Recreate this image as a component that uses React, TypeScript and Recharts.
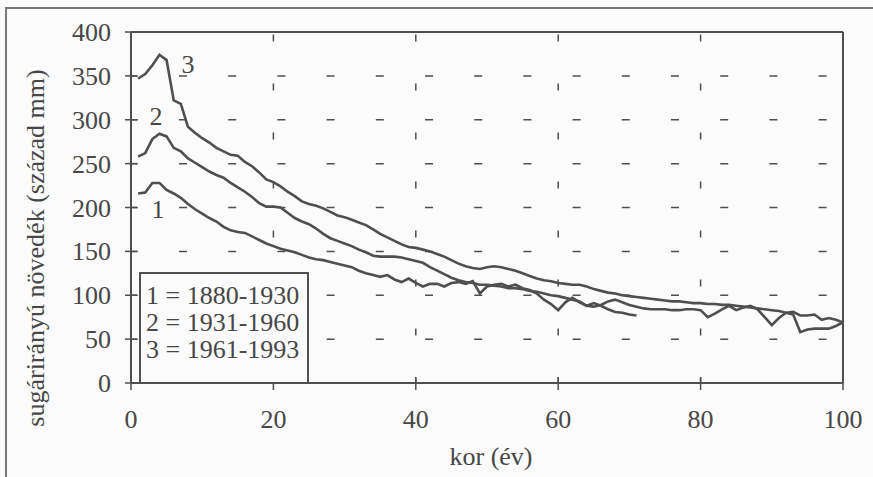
import { LineChart, Line, XAxis, YAxis, CartesianGrid, ReferenceLine, ReferenceDot } from "recharts";

// age in years (1..100)
const ages = Array.from({ length: 100 }, (_, i) => i + 1);

// 1 = 1880-1930 (ends at age 71)
const period1 = [
  216, 217, 228, 228, 220, 216, 211, 204, 198, 193,
  188, 184, 178, 174, 172, 171, 167, 163, 159, 156,
  153, 151, 149, 146, 143, 141, 140, 138, 136, 134,
  132, 128, 125, 123, 121, 123, 118, 115, 119, 114,
  110, 113, 113, 110, 114, 115, 113, 116, 102, 110,
  112, 113, 110, 112, 108, 106, 102, 95, 90, 83,
  92, 97, 92, 88, 91, 88, 84, 81, 80, 78,
  77,
];

// 2 = 1931-1960
const period2 = [
  258, 262, 278, 284, 281, 268, 264, 256, 251, 246,
  241, 237, 234, 228, 223, 218, 212, 205, 201, 201,
  200, 194, 188, 184, 181, 176, 170, 165, 162, 159,
  156, 152, 149, 145, 144, 144, 144, 143, 141, 139,
  137, 132, 128, 124, 120, 117, 115, 114, 112, 112,
  111, 110, 108, 108, 107, 105, 104, 102, 100, 99,
  97, 95, 93, 88, 87, 89, 93, 95, 92, 89,
  87, 85, 84, 84, 84, 83, 83, 84, 84, 83,
  75, 79, 84, 88, 83, 86, 88, 84, 75, 66,
  74, 80, 78, 58, 61, 62, 62, 62, 65, 69,
];

// 3 = 1961-1993
const period3 = [
  347, 352, 362, 374, 368, 322, 318, 292, 285, 279,
  274, 268, 264, 260, 259, 252, 247, 240, 232, 229,
  224, 218, 213, 207, 204, 202, 199, 195, 191, 189,
  186, 183, 180, 175, 170, 166, 162, 158, 155, 154,
  152, 150, 147, 144, 140, 136, 133, 131, 130, 132,
  133, 132, 130, 128, 125, 122, 119, 117, 116, 114,
  113, 112, 112, 110, 107, 105, 103, 102, 100, 99,
  98, 97, 96, 95, 94, 93, 93, 92, 91, 91,
  90, 90, 89, 89, 88, 87, 86, 85, 84, 83,
  82, 80, 81, 77, 77, 78, 72, 74, 72, 69,
];

const xTicks = [0, 20, 40, 60, 80, 100];
const yTicks = [0, 50, 100, 150, 200, 250, 300, 350, 400];
const legendLines = ["1 = 1880-1930", "2 = 1931-1960", "3 = 1961-1993"];
const curveTags = [
  { tag: "1", age: 3.8, value: 198 },
  { tag: "2", age: 3.5, value: 304 },
  { tag: "3", age: 8, value: 364 },
];

const rows = ages.map((age, i) => ({
  age,
  p1: period1[i] ?? null,
  p2: period2[i] ?? null,
  p3: period3[i] ?? null,
}));

const ink = "#4f4f4f";
const textInk = "#474747";
const serif = "Liberation Serif, DejaVu Serif";

const hGrid = (p: any) => (
  <line key={p.key} x1={p.x1} y1={p.y1} x2={p.x2} y2={p.y2} stroke={ink} strokeWidth={1.5}
    strokeDasharray="8 41.2" strokeDashoffset={1.2} />
);
const vGrid = (p: any) => (
  <line key={p.key} x1={p.x1} y1={p.y1} x2={p.x2} y2={p.y2} stroke={ink} strokeWidth={1.5}
    strokeDasharray="7 42" strokeDashoffset={46.5} />
);

const XTick = ({ x, y, payload }: any) => (
  <g>
    <line x1={x} x2={x} y1={y - 6} y2={y + 7} stroke={ink} strokeWidth={1.5} />
    <text x={x} y={y + 45} textAnchor="middle" style={{ fontFamily: serif, fontSize: 26 }} fill={textInk}>
      {payload.value}
    </text>
  </g>
);

const YTick = ({ x, y, payload }: any) => (
  <g>
    <line x1={x - 6} x2={x + 6} y1={y} y2={y} stroke={ink} strokeWidth={1.5} />
    <text x={x - 20} y={y + 9} textAnchor="end" style={{ fontFamily: serif, fontSize: 26 }} fill={textInk}>
      {payload.value}
    </text>
  </g>
);

const yLabel = () => (
  <text x={35} y={248} transform="rotate(-90 35 248)" textAnchor="middle" dominantBaseline="central"
    style={{ fontFamily: serif, fontSize: 26 }} fill={textInk}>
    sugárirányú növedék (század mm)
  </text>
);

const xLabel = () => (
  <text x={491} y={465} textAnchor="middle" style={{ fontFamily: serif, fontSize: 26 }} fill={textInk}>
    kor (év)
  </text>
);

export default function App() {
  return (
    <div style={{ position: "absolute", left: 0, top: 0, width: 873, height: 477, background: "#fafbfa", overflow: "hidden" }}>
      <div style={{ position: "absolute", left: 5, top: 7, right: -4, bottom: -4, borderLeft: "2px solid #7a7a7a", borderTop: "2px solid #7a7a7a" }} />
      <LineChart width={873} height={477} data={rows} margin={{ top: 32, right: 30, bottom: 0, left: 0 }}>
        <CartesianGrid horizontal={hGrid} vertical={false} />
        <CartesianGrid vertical={vGrid} horizontal={false} />
        <XAxis dataKey="age" type="number" domain={[0, 100]} ticks={xTicks} height={94}
          axisLine={{ stroke: ink, strokeWidth: 2 }} tickLine={false} tickSize={0} tickMargin={0}
          tick={<XTick />} label={xLabel} interval={0} />
        <YAxis type="number" domain={[0, 400]} ticks={yTicks} width={131}
          axisLine={{ stroke: ink, strokeWidth: 2 }} tickLine={false} tickSize={0} tickMargin={0}
          tick={<YTick />} label={yLabel} interval={0} />
        <ReferenceLine y={400} stroke={ink} strokeWidth={2} />
        <ReferenceLine x={100} stroke={ink} strokeWidth={2} />
        <Line dataKey="p1" stroke={ink} strokeWidth={2.6} dot={false} isAnimationActive={false} />
        <Line dataKey="p2" stroke={ink} strokeWidth={2.6} dot={false} isAnimationActive={false} />
        <Line dataKey="p3" stroke={ink} strokeWidth={2.6} dot={false} isAnimationActive={false} />
        {curveTags.map((c) => (
          <ReferenceDot key={c.tag} x={c.age} y={c.value} r={0}
            shape={(p: any) => (
              <text x={p.cx} y={p.cy + 9} textAnchor="middle" style={{ fontFamily: serif, fontSize: 26 }} fill={textInk}>
                {c.tag}
              </text>
            )} />
        ))}
      </LineChart>
      <div style={{
        position: "absolute", left: 139, top: 272, width: 161, height: 100, border: `2px solid ${ink}`,
        fontFamily: serif, fontSize: 26, lineHeight: "27px", color: textInk, paddingTop: 8, paddingLeft: 5,
        boxSizing: "content-box", whiteSpace: "nowrap", background: "#fafbfa",
      }}>
        {legendLines.map((t) => (
          <div key={t}>{t}</div>
        ))}
      </div>
    </div>
  );
}
